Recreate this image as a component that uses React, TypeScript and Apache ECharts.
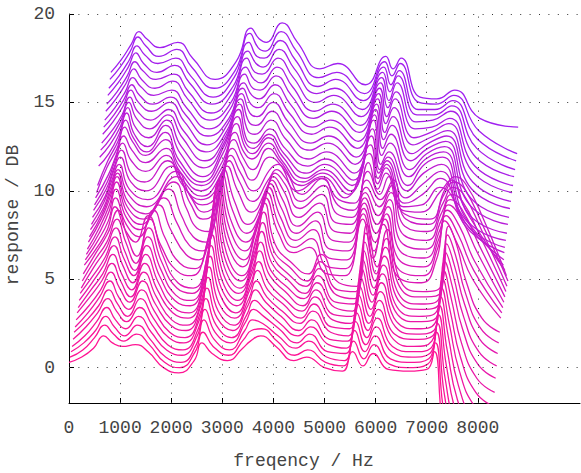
import React, { useEffect, useRef } from "react";
import * as echarts from "echarts";

// ---- axis ticks ----
const X_TICKS = [0, 1000, 2000, 3000, 4000, 5000, 6000, 7000, 8000];
const X_GRID = [1000, 2000, 3000, 4000, 5000, 6000, 7000, 8000];
const Y_TICKS = [0, 5, 10, 15, 20];

// waterfall offsets applied per frame (frame index k)
const FRAME_DF = 20; // Hz per frame
const FRAME_DDB = 0.4; // dB per frame

// ---- bottom frames (k = 0..14): shared frequency knots ----
const BOTTOM_FREQ = [0, 250, 480, 680, 850, 1050, 1300, 1550, 1850, 2150, 2450, 2600, 2800, 3100, 3400, 3550, 3750, 4050, 4400, 4650, 5000, 5350, 5550, 5750, 5950, 6250, 6650, 7000, 7150, 7300, 7500, 7800, 8150];
const BOTTOM_LEVELS = [
  [0.3, 0.6, 1.1, 1.8, 1.4, 1.2, 1.3, 0.9, 0.0, -0.3, 0.4, 1.4, 0.8, 0.4, 1.1, 1.5, 1.8, 1.2, 0.4, 0.6, 0.0, -0.2, 0.9, 0.1, 0.8, -0.1, -0.2, -0.1, 0.9, -3.0, -6.0, -7.0, -7.5],
  [0.2, 0.6, 1.3, 2.0, 1.5, 1.1, 1.5, 0.9, -0.1, -0.4, 0.5, 1.6, 0.8, 0.3, 1.2, 1.7, 1.8, 1.1, 0.3, 0.6, -0.1, -0.3, 1.1, 0.1, 0.9, -0.2, -0.4, -0.2, 1.0, -2.6, -5.5, -7.0, -7.5],
  [0.1, 0.6, 1.3, 2.1, 1.5, 1.0, 1.6, 0.8, -0.2, -0.5, 0.5, 1.9, 0.8, 0.2, 1.3, 1.9, 1.7, 1.0, 0.3, 0.7, -0.2, -0.4, 1.3, 0.1, 1.0, -0.3, -0.5, -0.3, 1.2, -2.2, -5.0, -6.8, -7.4],
  [0.0, 0.6, 1.4, 2.2, 1.5, 1.0, 1.7, 0.8, -0.2, -0.5, 0.6, 2.1, 0.8, 0.2, 1.4, 2.1, 1.7, 1.0, 0.2, 0.7, -0.3, -0.4, 1.4, 0.1, 1.1, -0.3, -0.6, -0.4, 1.3, -1.8, -4.6, -6.5, -7.2],
  [0.0, 0.7, 1.5, 2.3, 1.6, 1.0, 1.8, 0.8, -0.3, -0.6, 0.6, 2.3, 0.8, 0.1, 1.4, 2.2, 1.7, 0.9, 0.2, 0.7, -0.3, -0.5, 1.5, 0.1, 1.2, -0.4, -0.7, -0.5, 1.4, -1.4, -4.2, -6.2, -7.0],
  [0.0, 0.7, 1.5, 2.4, 1.6, 0.9, 1.9, 0.8, -0.3, -0.6, 0.7, 2.5, 0.8, 0.1, 1.5, 2.4, 1.7, 0.9, 0.1, 0.7, -0.4, -0.5, 1.6, 0.1, 1.3, -0.4, -0.8, -0.5, 1.5, -1.0, -3.8, -5.8, -6.6],
  [-0.1, 0.7, 1.6, 2.5, 1.6, 0.9, 2.0, 0.8, -0.4, -0.7, 0.7, 2.7, 0.8, 0.0, 1.5, 2.5, 1.6, 0.8, 0.1, 0.8, -0.4, -0.6, 1.7, 0.1, 1.4, -0.5, -0.8, -0.6, 1.6, -0.6, -3.4, -5.4, -6.2],
  [-0.1, 0.7, 1.6, 2.6, 1.7, 0.9, 2.1, 0.8, -0.4, -0.7, 0.8, 2.9, 0.8, 0.0, 1.6, 2.7, 1.6, 0.8, 0.0, 0.8, -0.5, -0.6, 1.8, 0.1, 1.5, -0.5, -0.9, -0.7, 1.7, -0.3, -3.0, -5.0, -5.8],
  [-0.1, 0.8, 1.7, 2.7, 1.7, 0.8, 2.2, 0.8, -0.5, -0.8, 0.8, 3.1, 0.9, -0.1, 1.6, 2.8, 1.6, 0.7, 0.0, 0.8, -0.5, -0.7, 1.9, 0.1, 1.6, -0.6, -1.0, -0.7, 1.8, 0.0, -2.6, -4.6, -5.4],
  [-0.2, 0.8, 1.7, 2.8, 1.7, 0.8, 2.3, 0.8, -0.5, -0.8, 0.9, 3.3, 0.9, -0.1, 1.7, 3.0, 1.6, 0.7, -0.1, 0.8, -0.6, -0.7, 2.0, 0.1, 1.7, -0.6, -1.0, -0.8, 1.9, 0.3, -2.2, -4.2, -5.0],
  [-0.2, 0.8, 1.8, 2.9, 1.8, 0.8, 2.4, 0.8, -0.6, -0.9, 0.9, 3.5, 0.9, -0.2, 1.7, 3.1, 1.5, 0.6, -0.1, 0.8, -0.6, -0.8, 2.1, 0.1, 1.8, -0.7, -1.1, -0.8, 2.0, 0.6, -1.8, -3.8, -4.6],
  [-0.2, 0.8, 1.8, 3.0, 1.8, 0.8, 2.5, 0.8, -0.6, -0.9, 1.0, 3.7, 0.9, -0.2, 1.8, 3.3, 1.5, 0.6, -0.2, 0.8, -0.7, -0.8, 2.2, 0.1, 1.9, -0.7, -1.1, -0.9, 2.1, 0.8, -1.5, -3.5, -4.3],
  [-0.3, 0.9, 1.9, 3.1, 1.8, 0.7, 2.6, 0.8, -0.7, -1.0, 1.0, 3.9, 0.9, -0.3, 1.8, 3.4, 1.5, 0.5, -0.2, 0.8, -0.7, -0.9, 2.3, 0.1, 2.0, -0.8, -1.2, -0.9, 2.2, 1.0, -1.2, -3.2, -4.0],
  [-0.3, 0.9, 1.9, 3.2, 1.9, 0.7, 2.7, 0.8, -0.7, -1.0, 1.1, 4.1, 0.9, -0.3, 1.9, 3.6, 1.4, 0.5, -0.3, 0.8, -0.8, -0.9, 2.4, 0.1, 2.1, -0.8, -1.2, -1.0, 2.3, 1.2, -1.0, -3.0, -3.8],
  [-0.3, 0.9, 2.0, 3.3, 1.9, 0.7, 2.8, 0.8, -0.8, -1.1, 1.1, 4.3, 0.9, -0.4, 1.9, 3.7, 1.4, 0.4, -0.3, 0.8, -0.8, -1.0, 2.5, 0.1, 2.2, -0.9, -1.3, -1.0, 2.4, 1.4, -0.8, -2.8, -3.6],
];

// ---- middle frames (k = 15..28): [relative Hz, relative dB] ----
const MIDDLE_FRAMES = [
  [[0, -0.2], [250, 0.8], [450, 1.8], [600, 3.1], [800, 1.8], [1000, 1.1], [1250, 2.6], [1500, 0.9], [1800, -0.5], [2100, -0.8], [2400, 1.0], [2600, 4.0], [2800, 1.0], [3100, -0.3], [3350, 1.6], [3550, 3.6], [3800, 1.6], [4100, 0.5], [4400, 0.8], [4750, -0.7], [5100, -0.8], [5450, 2.4], [5650, 0.2], [5850, 2.1], [6150, -0.9], [6600, -1.2], [6900, 0.2], [7050, 2.3], [7300, 1.0], [7600, -1.0], [8150, -3.2]],
  [[0, -0.3], [250, 0.8], [450, 1.9], [590, 3.2], [800, 1.7], [1050, 1.0], [1330, 2.5], [1550, 1.0], [1850, -0.5], [2150, -0.8], [2400, 0.9], [2600, 4.0], [2800, 1.0], [3100, -0.3], [3350, 1.5], [3560, 3.5], [3800, 1.6], [4100, 0.4], [4420, 0.9], [4750, -0.7], [5100, -0.8], [5440, 2.3], [5650, 0.2], [5860, 2.0], [6150, -0.9], [6600, -1.2], [6900, 0.4], [7060, 2.2], [7300, 1.1], [7600, -0.9], [8150, -3.3]],
  [[0, -0.4], [250, 0.8], [440, 2.0], [580, 3.3], [780, 1.7], [1050, 1.0], [1410, 2.4], [1650, 1.0], [1950, -0.4], [2200, -0.7], [2420, 0.9], [2600, 3.8], [2800, 1.1], [3100, -0.2], [3350, 1.4], [3570, 3.4], [3800, 1.7], [4100, 0.4], [4440, 1.0], [4750, -0.6], [5100, -0.7], [5430, 2.2], [5650, 0.3], [5870, 1.9], [6150, -0.8], [6600, -1.1], [6900, 0.5], [7060, 2.1], [7300, 1.2], [7600, -0.8], [8150, -3.4]],
  [[0, -0.5], [250, 0.8], [430, 2.0], [570, 3.3], [770, 1.6], [1050, 0.9], [1490, 2.4], [1750, 1.0], [2000, -0.3], [2250, -0.6], [2450, 0.9], [2610, 3.6], [2800, 1.2], [3100, -0.1], [3380, 1.4], [3580, 3.2], [3800, 1.8], [4100, 0.4], [4460, 1.1], [4750, -0.5], [5100, -0.6], [5420, 2.1], [5650, 0.4], [5880, 1.9], [6150, -0.7], [6600, -1.0], [6900, 0.6], [7070, 2.0], [7300, 1.3], [7650, -0.8], [8150, -3.5]],
  [[0, -0.5], [250, 0.8], [420, 2.0], [560, 3.2], [760, 1.5], [1080, 0.8], [1570, 2.5], [1820, 1.0], [2050, -0.2], [2300, -0.5], [2480, 0.9], [2620, 3.4], [2820, 1.3], [3100, 0.0], [3400, 1.4], [3590, 3.0], [3800, 1.9], [4100, 0.4], [4480, 1.2], [4780, -0.4], [5100, -0.5], [5410, 2.0], [5650, 0.5], [5890, 1.9], [6150, -0.6], [6600, -0.9], [6900, 0.7], [7080, 1.9], [7300, 1.4], [7650, -0.7], [8150, -3.6]],
  [[0, -0.6], [250, 0.7], [410, 1.9], [550, 3.0], [750, 1.4], [1100, 0.7], [1650, 2.5], [1900, 1.0], [2100, -0.1], [2330, -0.3], [2500, 0.9], [2640, 3.2], [2840, 1.4], [3100, 0.1], [3420, 1.5], [3600, 2.8], [3800, 2.0], [4100, 0.5], [4500, 1.3], [4800, -0.3], [5100, -0.4], [5400, 1.9], [5650, 0.6], [5900, 1.9], [6150, -0.5], [6600, -0.8], [6900, 0.8], [7090, 1.8], [7300, 1.4], [7650, -0.6], [8150, -3.7]],
  [[0, -0.6], [250, 0.6], [400, 1.8], [540, 2.8], [740, 1.4], [1100, 0.7], [1680, 2.4], [1950, 0.9], [2200, 0.0], [2400, 0.3], [2680, 3.0], [2880, 1.6], [3150, 0.4], [3450, 1.7], [3610, 2.6], [3800, 2.0], [4100, 0.6], [4520, 1.4], [4800, -0.2], [5100, -0.3], [5400, 1.8], [5650, 0.7], [5900, 1.9], [6150, -0.4], [6600, -0.7], [6900, 0.9], [7100, 1.8], [7300, 1.4], [7650, -0.6], [8150, -3.8]],
  [[0, -0.7], [250, 0.6], [400, 1.8], [540, 2.7], [740, 1.3], [1100, 0.7], [1650, 2.3], [1950, 0.8], [2200, 0.0], [2450, 0.5], [2700, 2.9], [2900, 1.7], [3150, 0.6], [3480, 1.9], [3620, 2.4], [3800, 1.9], [4100, 0.6], [4540, 1.5], [4800, -0.1], [5100, -0.3], [5390, 1.8], [5650, 0.7], [5910, 1.8], [6150, -0.4], [6600, -0.7], [6900, 1.0], [7100, 1.7], [7300, 1.3], [7650, -0.7], [8150, -3.9]],
  [[0, -0.7], [250, 0.5], [400, 1.8], [545, 2.7], [750, 1.3], [1050, 0.8], [1550, 2.2], [1850, 0.8], [2150, 0.0], [2450, 0.6], [2710, 2.8], [2900, 1.8], [3150, 0.8], [3500, 2.1], [3630, 2.3], [3800, 1.8], [4100, 0.6], [4500, 1.5], [4800, 0.0], [5100, -0.3], [5390, 1.9], [5620, 0.6], [5800, 1.6], [6100, -0.5], [6600, -0.8], [6900, 0.9], [7100, 1.6], [7300, 1.2], [7650, -0.8], [8100, -4.0]],
  [[0, -0.7], [250, 0.5], [400, 1.7], [545, 2.7], [750, 1.3], [1000, 0.9], [1450, 2.1], [1750, 0.7], [2100, -0.1], [2450, 0.7], [2720, 2.8], [2900, 1.9], [3100, 1.0], [3450, 2.3], [3650, 1.9], [4000, 0.4], [4450, 1.1], [4800, -0.1], [5100, -0.3], [5380, 2.0], [5560, 0.5], [5720, 1.4], [6050, -0.7], [6400, -0.8], [6800, 0.4], [7000, 1.0], [7300, -0.8], [8050, -4.1]],
  [[0, -0.8], [250, 0.5], [400, 1.7], [550, 2.7], [720, 1.7], [1000, 1.1], [1400, 2.0], [1700, 0.7], [2100, -0.3], [2450, 0.8], [2730, 2.9], [2900, 1.9], [3100, 1.2], [3400, 2.4], [3650, 1.6], [4050, 0.3], [4450, 0.8], [4900, -0.4], [5380, 2.1], [5540, 0.4], [5700, 1.3], [6050, -0.9], [6400, -0.8], [6750, 0.2], [7250, -1.6], [8000, -4.2]],
  [[0, -0.8], [250, 0.5], [400, 1.6], [550, 2.7], [710, 1.9], [980, 1.2], [1380, 2.0], [1650, 0.7], [2060, -0.4], [2450, 0.8], [2730, 2.9], [2900, 1.8], [3060, 1.4], [3380, 2.3], [3650, 1.3], [4060, 0.1], [4440, 0.6], [4950, -0.6], [5380, 2.2], [5530, 0.3], [5690, 1.1], [6050, -1.1], [6400, -0.6], [6740, 0.3], [7230, -2.2], [7990, -4.3]],
  [[0, -0.9], [200, 0.5], [400, 1.6], [550, 2.8], [700, 2.0], [960, 1.2], [1350, 2.1], [1620, 0.6], [2050, -0.5], [2450, 0.8], [2740, 3.0], [2900, 1.7], [3050, 1.3], [3360, 2.2], [3650, 1.1], [4080, -0.1], [4440, 0.4], [4970, -0.8], [5380, 2.3], [5525, 0.2], [5680, 0.9], [6050, -1.2], [6390, -0.4], [6735, 0.3], [7220, -2.8], [7980, -4.3]],
  [[0, -0.9], [200, 0.5], [400, 1.6], [550, 2.8], [700, 1.8], [960, 1.0], [1320, 2.1], [1600, 0.5], [2040, -0.7], [2450, 0.9], [2740, 3.0], [2900, 1.5], [3040, 1.2], [3350, 2.0], [3650, 0.9], [4090, -0.2], [4440, 0.3], [4980, -0.9], [5380, 2.3], [5520, 0.0], [5680, 0.7], [6050, -1.2], [6380, -0.2], [6730, 0.3], [7220, -3.1], [7970, -4.4]],
];

// ---- top frames (k = 29..41): shared frequency knots ----
const TOP_FREQ = [0, 200, 400, 550, 700, 960, 1310, 1600, 2040, 2450, 2740, 2900, 3040, 3350, 3650, 4090, 4440, 4980, 5380, 5520, 5680, 6050, 6380, 6730, 7220, 7970];
const TOP_LEVELS = [
  [-0.2, 0.5, 1.6, 2.8, 1.6, 0.9, 2.1, 0.5, -0.8, 0.9, 3.0, 1.3, 1.1, 1.9, 0.8, -0.2, 0.2, -1.0, 2.4, -0.1, 0.6, -1.3, -0.1, 0.3, -3.3, -4.4],
  [-0.1, 0.6, 1.6, 2.7, 1.6, 1.0, 2.0, 0.5, -0.7, 0.8, 2.9, 1.4, 1.2, 2.0, 0.9, -0.2, 0.2, -1.0, 2.3, 0.0, 0.7, -1.2, -0.2, 0.2, -3.3, -4.4],
  [-0.1, 0.6, 1.6, 2.6, 1.7, 1.1, 1.9, 0.6, -0.7, 0.7, 2.8, 1.5, 1.3, 2.1, 1.0, -0.1, 0.3, -0.9, 2.2, 0.0, 0.8, -1.2, -0.3, 0.1, -3.2, -4.3],
  [-0.1, 0.6, 1.5, 2.5, 1.7, 1.2, 1.8, 0.6, -0.6, 0.6, 2.7, 1.6, 1.4, 2.2, 1.1, -0.1, 0.3, -0.9, 2.1, 0.1, 0.9, -1.1, -0.4, 0.0, -3.2, -4.3],
  [0.0, 0.7, 1.6, 2.5, 1.8, 1.3, 1.8, 0.7, -0.6, 0.6, 2.6, 1.7, 1.5, 2.3, 1.2, 0.0, 0.4, -0.8, 2.0, 0.1, 1.0, -1.1, -0.5, -0.1, -3.1, -4.2],
  [0.0, 0.7, 1.6, 2.4, 1.8, 1.3, 1.7, 0.7, -0.5, 0.5, 2.5, 1.8, 1.6, 2.4, 1.3, 0.0, 0.4, -0.8, 1.9, 0.2, 1.1, -1.0, -0.6, -0.2, -3.1, -4.2],
  [0.0, 0.7, 1.6, 2.4, 1.9, 1.4, 1.7, 0.7, -0.5, 0.6, 2.6, 1.8, 1.7, 2.5, 1.4, 0.1, 0.5, -0.7, 1.8, 0.2, 1.2, -1.0, -0.7, -0.2, -3.0, -4.1],
  [0.1, 0.8, 1.7, 2.5, 1.9, 1.4, 1.8, 0.8, -0.4, 0.6, 2.6, 1.9, 1.7, 2.6, 1.5, 0.1, 0.5, -0.7, 1.7, 0.3, 1.2, -0.9, -0.8, -0.3, -3.0, -4.1],
  [0.1, 0.8, 1.7, 2.5, 2.0, 1.5, 1.8, 0.8, -0.4, 0.7, 2.7, 1.9, 1.8, 2.7, 1.6, 0.2, 0.6, -0.6, 1.6, 0.3, 1.3, -0.9, -0.8, -0.3, -2.9, -4.0],
  [0.2, 0.9, 1.8, 2.6, 2.0, 1.5, 1.9, 0.9, -0.3, 0.7, 2.7, 2.0, 1.8, 2.8, 1.7, 0.3, 0.6, -0.6, 1.5, 0.4, 1.3, -0.9, -0.9, -0.4, -2.8, -4.0],
  [0.2, 0.9, 1.8, 2.6, 2.1, 1.6, 1.9, 0.9, -0.3, 0.8, 2.8, 2.0, 1.9, 2.9, 1.8, 0.3, 0.7, -0.5, 1.4, 0.4, 1.2, -1.0, -1.0, -0.5, -2.7, -3.9],
  [0.3, 1.0, 1.9, 2.7, 2.2, 1.6, 2.0, 1.0, -0.2, 0.8, 2.9, 2.1, 1.9, 3.0, 1.9, 0.4, 0.7, -0.5, 1.3, 0.5, 1.2, -1.0, -1.1, -0.6, -2.6, -3.9],
  [0.3, 1.0, 1.9, 2.6, 2.2, 1.7, 2.0, 1.1, -0.1, 0.9, 2.8, 2.2, 2.0, 3.1, 2.0, 0.5, 0.8, -0.4, 1.2, 0.5, 1.1, -1.1, -1.2, -0.7, -2.3, -2.8],
];

const PINK = [255, 20, 147];
const PURPLE = [160, 32, 240];

function frameColor(t: number): string {
  const c = PINK.map((p, i) => Math.round(p + (PURPLE[i] - p) * t));
  return `rgb(${c[0]},${c[1]},${c[2]})`;
}

function buildFrames(): number[][][] {
  const frames: number[][][] = [];
  BOTTOM_LEVELS.forEach((lv) => frames.push(BOTTOM_FREQ.map((f, j) => [f, lv[j]])));
  MIDDLE_FRAMES.forEach((fr) => frames.push(fr.map((p) => [p[0], p[1]])));
  TOP_LEVELS.forEach((lv) => frames.push(TOP_FREQ.map((f, j) => [f, lv[j]])));
  return frames.map((fr, k) => fr.map(([f, v]) => [f + k * FRAME_DF, +(v + k * FRAME_DDB).toFixed(2)]));
}

const FONT = "Liberation Mono";
const TEXT_COLOR = "#444";
const FONT_SIZE = 18;

export default function App() {
  const ref = useRef<HTMLDivElement>(null);
  useEffect(() => {
    const chart = echarts.init(ref.current!, null, { renderer: "svg" });
    const frames = buildFrames();
    const n = frames.length;
    const dotted = { color: "#333", width: 1, type: [1, 8.4] as number[] };
    const series: any[] = frames.map((data, k) => ({
      type: "line",
      data,
      showSymbol: false,
      smooth: 0.5,
      silent: true,
      clip: true,
      lineStyle: { color: frameColor(k / (n - 1)), width: 1.3 },
      z: 2,
    }));
    series.push({
      type: "line",
      data: [],
      silent: true,
      z: 3,
      markLine: {
        silent: true,
        symbol: ["none", "none"],
        label: { show: false },
        lineStyle: dotted,
        data: [
          ...Y_TICKS.map((y) => ({ yAxis: y })),
          ...X_GRID.map((x) => ({ xAxis: x })),
        ],
      },
    });
    chart.setOption({
      animation: false,
      backgroundColor: "#fff",
      grid: { left: 69, right: 1, top: 14, bottom: 70, containLabel: false, outerBoundsMode: "none" },
      xAxis: {
        type: "value",
        min: 0,
        max: 10000,
        name: "freqency / Hz",
        nameLocation: "middle",
        nameGap: 49,
        nameTextStyle: { fontFamily: FONT, fontSize: FONT_SIZE, color: TEXT_COLOR, padding: [0, 42, 0, 0] },
        axisLine: { show: true, onZero: false, lineStyle: { color: "#000", width: 1 } },
        axisTick: { show: true, inside: true, length: 5, customValues: X_GRID, lineStyle: { color: "#000" } },
        axisLabel: { customValues: X_TICKS, formatter: (v: number) => String(v), fontFamily: FONT, fontSize: FONT_SIZE, color: TEXT_COLOR, margin: 16 },
        splitLine: { show: false },
      },
      yAxis: {
        type: "value",
        min: -2,
        max: 20,
        name: "response / DB",
        nameLocation: "middle",
        nameGap: 43,
        nameTextStyle: { fontFamily: FONT, fontSize: FONT_SIZE, color: TEXT_COLOR, padding: [0, 13, 0, 0] },
        axisLine: { show: true, onZero: false, lineStyle: { color: "#000", width: 1 } },
        axisTick: { show: true, inside: true, length: 5, customValues: Y_TICKS, lineStyle: { color: "#000" } },
        axisLabel: { customValues: Y_TICKS, formatter: (v: number) => String(v), fontFamily: FONT, fontSize: FONT_SIZE, color: TEXT_COLOR, margin: 14 },
        splitLine: { show: false },
      },
      series,
    });
    return () => chart.dispose();
  }, []);
  return <div ref={ref} style={{ position: "fixed", left: 0, top: 0, width: 581, height: 473 }} />;
}
